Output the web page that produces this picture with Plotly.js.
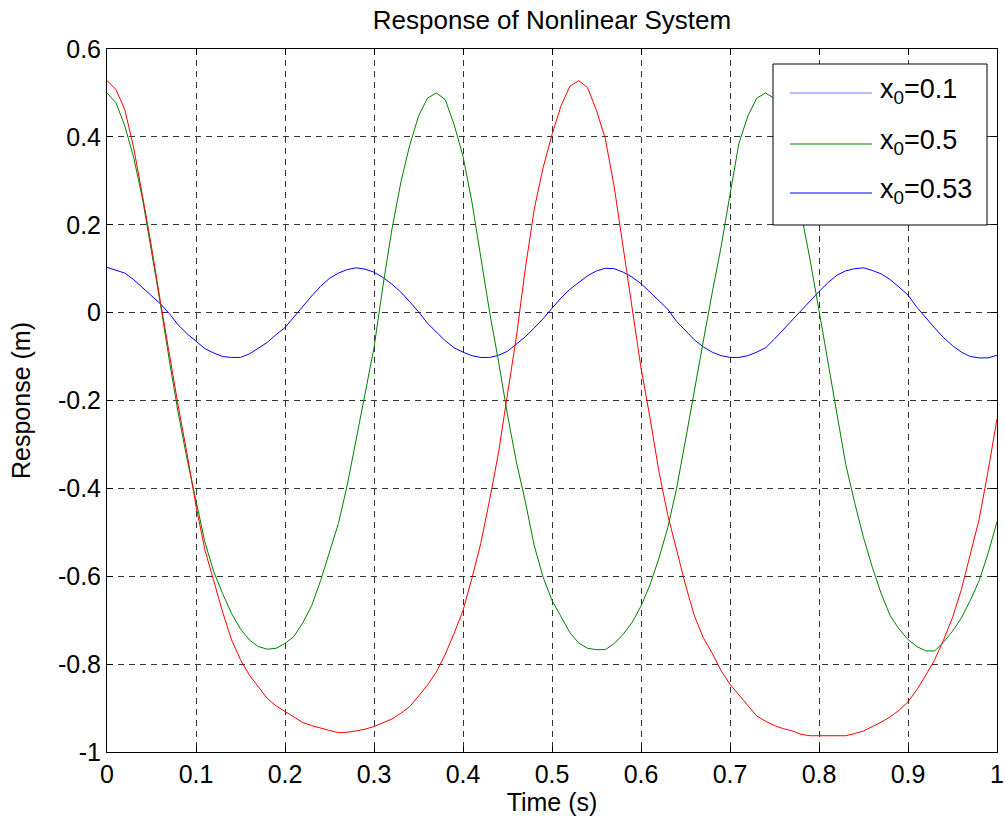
<!DOCTYPE html>
<html>
<head>
<meta charset="utf-8">
<script src="https://cdn.plot.ly/plotly-3.0.1.min.js"></script>
<style>html,body{margin:0;padding:0;background:#fff;}#chart{width:1005px;height:824px;}</style>
</head>
<body>
<div id="chart"></div>
<script>
// Time (s)
var time = [0.00,0.01,0.02,0.03,0.04,0.05,0.06,0.07,0.08,0.09,
0.10,0.11,0.12,0.13,0.14,0.15,0.16,0.17,0.18,0.19,
0.20,0.21,0.22,0.23,0.24,0.25,0.26,0.27,0.28,0.29,
0.30,0.31,0.32,0.33,0.34,0.35,0.36,0.37,0.38,0.39,
0.40,0.41,0.42,0.43,0.44,0.45,0.46,0.47,0.48,0.49,
0.50,0.51,0.52,0.53,0.54,0.55,0.56,0.57,0.58,0.59,
0.60,0.61,0.62,0.63,0.64,0.65,0.66,0.67,0.68,0.69,
0.70,0.71,0.72,0.73,0.74,0.75,0.76,0.77,0.78,0.79,
0.80,0.81,0.82,0.83,0.84,0.85,0.86,0.87,0.88,0.89,
0.90,0.91,0.92,0.93,0.94,0.95,0.96,0.97,0.98,0.99,1.00];

// x0 = 0.1
var resp01 = [0.103,0.097,0.090,0.075,0.057,0.037,0.020,-0.002,-0.028,-0.048,
-0.065,-0.082,-0.092,-0.100,-0.102,-0.102,-0.094,-0.082,-0.068,-0.050,
-0.034,-0.010,0.015,0.038,0.060,0.078,0.090,0.098,0.102,0.099,
0.092,0.080,0.065,0.047,0.025,0.002,-0.024,-0.045,-0.064,-0.080,
-0.090,-0.098,-0.102,-0.102,-0.097,-0.088,-0.072,-0.055,-0.035,-0.014,
0.010,0.033,0.053,0.068,0.084,0.095,0.101,0.100,0.092,0.081,
0.066,0.047,0.028,0.008,-0.020,-0.040,-0.062,-0.078,-0.090,-0.098,
-0.102,-0.102,-0.098,-0.090,-0.080,-0.060,-0.038,-0.018,0.005,0.028,
0.048,0.068,0.085,0.095,0.100,0.102,0.096,0.088,0.075,0.058,
0.040,0.012,-0.012,-0.035,-0.057,-0.075,-0.090,-0.100,-0.103,-0.103,-0.097];

// x0 = 0.5
var resp05 = [0.500,0.478,0.425,0.353,0.258,0.140,0.020,-0.108,-0.228,-0.334,
-0.432,-0.522,-0.590,-0.640,-0.685,-0.720,-0.745,-0.760,-0.766,-0.764,
-0.753,-0.737,-0.706,-0.667,-0.610,-0.545,-0.480,-0.392,-0.290,-0.190,
-0.080,0.060,0.188,0.295,0.380,0.447,0.488,0.500,0.485,0.428,
0.356,0.252,0.125,0.000,-0.112,-0.233,-0.340,-0.430,-0.530,-0.602,
-0.655,-0.693,-0.728,-0.752,-0.764,-0.767,-0.767,-0.753,-0.732,-0.705,
-0.668,-0.620,-0.560,-0.490,-0.400,-0.290,-0.175,-0.065,0.045,0.150,
0.269,0.385,0.447,0.488,0.500,0.487,0.430,0.356,0.225,0.120,
0.005,-0.110,-0.230,-0.345,-0.432,-0.512,-0.580,-0.640,-0.690,-0.720,
-0.744,-0.760,-0.770,-0.770,-0.750,-0.725,-0.695,-0.655,-0.610,-0.548,-0.476];

// x0 = 0.53
var resp053 = [0.528,0.508,0.462,0.375,0.265,0.150,0.025,-0.095,-0.212,-0.322,
-0.440,-0.540,-0.614,-0.682,-0.745,-0.790,-0.825,-0.852,-0.878,-0.895,
-0.908,-0.922,-0.933,-0.940,-0.946,-0.951,-0.956,-0.955,-0.952,-0.948,
-0.942,-0.934,-0.925,-0.912,-0.897,-0.873,-0.848,-0.818,-0.778,-0.730,
-0.678,-0.605,-0.525,-0.425,-0.318,-0.185,-0.055,0.100,0.235,0.330,
0.405,0.470,0.515,0.528,0.512,0.460,0.395,0.285,0.145,0.010,
-0.126,-0.238,-0.360,-0.460,-0.540,-0.620,-0.690,-0.740,-0.775,-0.815,
-0.846,-0.870,-0.895,-0.918,-0.930,-0.940,-0.947,-0.952,-0.960,-0.963,
-0.963,-0.963,-0.963,-0.963,-0.958,-0.952,-0.942,-0.932,-0.920,-0.905,
-0.886,-0.858,-0.825,-0.790,-0.745,-0.694,-0.630,-0.550,-0.470,-0.360,-0.242];

var seriesNames = ["x<sub>0</sub>=0.1", "x<sub>0</sub>=0.5", "x<sub>0</sub>=0.53"];
var seriesColors = ["#0000ff", "#008000", "#ff0000"];
var legendColors = ["#7070ff", "#008000", "#0000ff"];

var xTickVals = [0,0.1,0.2,0.3,0.4,0.5,0.6,0.7,0.8,0.9,1];
var xTickText = ["0","0.1","0.2","0.3","0.4","0.5","0.6","0.7","0.8","0.9","1"];
var yTickVals = [-1,-0.8,-0.6,-0.4,-0.2,0,0.2,0.4,0.6];
var yTickText = ["-1","-0.8","-0.6","-0.4","-0.2","0","0.2","0.4","0.6"];

var FONT = "Liberation Sans, Arial, Helvetica, sans-serif";
var W = 1005, H = 824;
var M = {l:107, r:8, t:49, b:72};
var PW = W - M.l - M.r, PH = H - M.t - M.b;
function px2x(px){ return (px - M.l) / PW; }
function py2y(py){ return (H - M.b - py) / PH; }

var ys = [resp01, resp05, resp053];
var traces = ys.map(function(y, i){
  return {x: time, y: y, type: 'scatter', mode: 'lines', name: seriesNames[i],
          line: {color: seriesColors[i], width: 1}, showlegend: false, hoverinfo: 'skip'};
});

// manual MATLAB-style legend
var shapes = [{type:'rect', xref:'paper', yref:'paper',
  x0: px2x(773), x1: px2x(987), y0: py2y(225), y1: py2y(64),
  line:{color:'#000', width:1}, fillcolor:'#fff', layer:'above'}];
var annotations = [];
var rowY = [93, 144, 193];
for (var i = 0; i < seriesNames.length; i++) {
  shapes.push({type:'line', xref:'paper', yref:'paper',
    x0: px2x(790), x1: px2x(872), y0: py2y(rowY[i]), y1: py2y(rowY[i]),
    line:{color: legendColors[i], width:1}, layer:'above'});
  annotations.push({xref:'paper', yref:'paper', x: px2x(878), y: py2y(rowY[i]-2),
    xanchor:'left', yanchor:'middle', showarrow:false, text: seriesNames[i],
    font:{family: FONT, size: 27, color:'#000'}});
}

var axisCommon = {
  showline: true, linecolor: '#000', linewidth: 1, mirror: 'ticks',
  ticks: 'inside', ticklen: 6, tickcolor: '#000', tickwidth: 1,
  showgrid: true, gridcolor: '#333', gridwidth: 1, griddash: '6px,5px',
  zeroline: false, tickfont: {family: FONT, size: 25, color: '#000'}
};

var layout = {
  width: W, height: H, margin: M,
  paper_bgcolor: '#fff', plot_bgcolor: '#fff',
  title: {text: 'Response of Nonlinear System', font: {family: FONT, size: 26, color: '#000'},
          x: 0.5, xref: 'paper', xanchor: 'center', y: 1, yref: 'paper', yanchor: 'bottom', pad: {b: 20}},
  xaxis: Object.assign({}, axisCommon, {range: [0, 1], tickvals: xTickVals, ticktext: xTickText,
          title: {text: 'Time (s)', font: {family: FONT, size: 25, color: '#000'}, standoff: 3}}),
  yaxis: Object.assign({}, axisCommon, {range: [-1, 0.6], tickvals: yTickVals, ticktext: yTickText,
          title: {text: 'Response (m)', font: {family: FONT, size: 25, color: '#000'}, standoff: 20}}),
  shapes: shapes, annotations: annotations, showlegend: false
};

Plotly.newPlot('chart', traces, layout, {displayModeBar: false, staticPlot: true});
</script>
</body>
</html>
